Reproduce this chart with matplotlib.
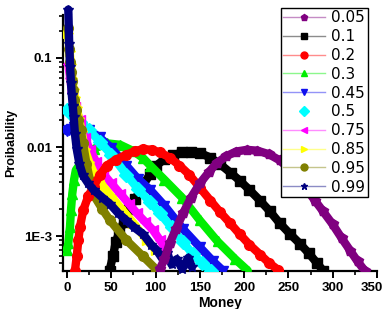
import matplotlib
matplotlib.use('Agg')
import matplotlib.pyplot as plt
import matplotlib.transforms as mtransforms
from matplotlib.lines import Line2D
from matplotlib.ticker import FixedLocator, LogLocator, NullFormatter, MultipleLocator

# saving propensity labels
labels = ['0.05', '0.1', '0.2', '0.3', '0.45', '0.5', '0.75', '0.85', '0.95', '0.99']

# values: money, probability
m_005 = [105, 110, 116, 123, 131, 140, 150, 160, 169, 180, 191, 203, 215, 228, 240, 250, 260, 270, 280, 289, 300, 310, 320, 328, 336]
p_005 = [4.3e-4, 5.5e-4, 8.3e-4, 1.2e-3, 1.8e-3, 2.7e-3, 3.9e-3, 5.2e-3, 6.6e-3, 7.9e-3, 8.9e-3, 9.3e-3, 9.1e-3, 8.3e-3, 7.1e-3, 5.8e-3, 4.5e-3, 3.4e-3, 2.5e-3, 1.9e-3, 1.35e-3, 9.5e-4, 6.8e-4, 5.2e-4, 4.1e-4]

m_01 = [48, 52, 55, 59, 64, 70, 77, 85, 94, 101, 110, 120, 130, 140, 150, 162, 173, 185, 195, 206, 218, 229, 240, 252, 263, 273, 282, 289]
p_01 = [4.1e-4, 6e-4, 8.5e-4, 1.1e-3, 1.45e-3, 2e-3, 2.6e-3, 3.6e-3, 5e-3, 6.2e-3, 7.3e-3, 8.1e-3, 8.7e-3, 8.9e-3, 8.6e-3, 7.6e-3, 6.4e-3, 5.1e-3, 4.2e-3, 3.3e-3, 2.5e-3, 1.9e-3, 1.4e-3, 1.05e-3, 8.2e-4, 6.4e-4, 5e-4, 4.1e-4]

m_02 = [9, 11, 12.8, 14.7, 18.4, 24, 30, 37, 45, 55, 67, 77, 86, 96, 105, 116, 127, 138, 150, 162, 173, 184, 195, 206, 218, 228, 238]
p_02 = [4.1e-4, 5.9e-4, 9e-4, 1.27e-3, 1.96e-3, 2.8e-3, 3.6e-3, 4.8e-3, 6.2e-3, 7.2e-3, 8.2e-3, 9e-3, 9.5e-3, 9.3e-3, 8.7e-3, 7.6e-3, 6.2e-3, 4.9e-3, 3.5e-3, 2.5e-3, 1.85e-3, 1.4e-3, 1.05e-3, 8e-4, 6.2e-4, 5e-4, 4.2e-4]

m_03 = [0, 1.5, 3.4, 4.5, 6, 8, 10, 15, 20, 30, 45, 60, 75, 86, 94, 110, 130, 150, 170, 190, 204]
p_03 = [7e-4, 8.3e-4, 1.27e-3, 1.96e-3, 3e-3, 4.3e-3, 5.5e-3, 6.5e-3, 7.8e-3, 9.5e-3, 1.1e-2, 1.06e-2, 9e-3, 7.5e-3, 6.2e-3, 4.3e-3, 2.7e-3, 1.5e-3, 8.7e-4, 5.5e-4, 4.1e-4]

m_045 = [0, 2, 4, 8, 15, 25, 37, 50, 67, 80, 94, 110, 131, 150, 165, 176]
p_045 = [1.5e-2, 1.55e-2, 1.6e-2, 1.7e-2, 1.7e-2, 1.55e-2, 1.28e-2, 9.8e-3, 6.2e-3, 4.4e-3, 3.3e-3, 2.2e-3, 1.2e-3, 7.5e-4, 5.2e-4, 4.1e-4]

m_05 = [0, 8, 15, 25, 37, 50, 67, 80, 94, 105, 118, 131, 142, 152, 163]
p_05 = [2.6e-2, 2.2e-2, 1.9e-2, 1.55e-2, 1.15e-2, 8.2e-3, 4.9e-3, 3.4e-3, 2.4e-3, 1.8e-3, 1.25e-3, 8.5e-4, 6.3e-4, 5e-4, 4.1e-4]

m_075 = [1.5, 3.5, 5.5, 9, 14.7, 20, 26, 33, 41, 50, 60, 70, 79, 88, 97, 105, 112]
p_075 = [8.5e-2, 6e-2, 4.2e-2, 2.8e-2, 2e-2, 1.25e-2, 9.3e-3, 6.8e-3, 5e-3, 3.9e-3, 3e-3, 2.3e-3, 1.8e-3, 1.45e-3, 1.17e-3, 9e-4, 7e-4]

m_085 = [1.5, 3, 4.5, 6, 7.5, 9, 11, 13.5, 16.5, 20, 25, 30, 36, 41, 50, 60, 75, 90, 100]
p_085 = [1.9e-1, 1.2e-1, 8.5e-2, 6e-2, 4.5e-2, 3.6e-2, 2.8e-2, 2.1e-2, 1.5e-2, 9.5e-3, 6.8e-3, 5.2e-3, 4.3e-3, 3.6e-3, 2.8e-3, 2.1e-3, 1.4e-3, 9e-4, 7e-4]

m_095 = [1.5, 2.5, 3.5, 4.5, 5.5, 6.5, 8, 10, 12.5, 15.5, 18, 22, 26, 30, 40, 48.5, 67, 86, 101]
p_095 = [2.2e-1, 1.25e-1, 9e-2, 7e-2, 5.5e-2, 4.4e-2, 3.4e-2, 2.6e-2, 2e-2, 1.55e-2, 1.1e-2, 6.5e-3, 4.2e-3, 2.9e-3, 2e-3, 1.5e-3, 9e-4, 5.9e-4, 4.2e-4]

m_099 = [1.5, 2.5, 3.5, 4.5, 5.5, 6.5, 7.5, 9, 11, 14, 18, 24, 30, 40, 48.5, 58, 67, 76, 86, 95, 101, 108, 113, 118, 124, 130, 137, 141]
p_099 = [3.5e-1, 1.45e-1, 8e-2, 5.2e-2, 3.8e-2, 2.9e-2, 2.2e-2, 1.4e-2, 9.5e-3, 6.5e-3, 4.8e-3, 3.9e-3, 3.3e-3, 2.7e-3, 2.3e-3, 1.8e-3, 1.5e-3, 1.25e-3, 1.05e-3, 8e-4, 7e-4, 5.5e-4, 6.5e-4, 4.8e-4, 5.5e-4, 4.3e-4, 5.7e-4, 4.5e-4]

money = [m_005, m_01, m_02, m_03, m_045, m_05, m_075, m_085, m_095, m_099]
prob = [p_005, p_01, p_02, p_03, p_045, p_05, p_075, p_085, p_095, p_099]

colors = ['#800080', '#000000', '#ff0000', '#00ee00', '#1010ee', '#00ffff', '#ff00ff', '#ffff00', '#808000', '#000080']
markers = ['p', 's', 'o', '^', 'v', 'D', '<', '>', 'o', '*']
zorders = [9, 3, 4, 3, 3, 3, 3, 3, 3, 5]

fig = plt.figure(figsize=(3.86, 3.09), dpi=100)
ax = fig.add_axes([63/386, 38/309, 314/386, 256/309])

for i in range(len(labels)):
    ax.plot(money[i], prob[i], color=colors[i], lw=6, marker=markers[i], ms=7,
            solid_capstyle='round', zorder=zorders[i], clip_on=(i != 9))

ax.set_yscale('log')
ax.set_xlim(-4.5, 350)
ax.set_ylim(4.05e-4, 0.304)

ax.xaxis.set_major_locator(MultipleLocator(50))
ax.xaxis.set_minor_locator(MultipleLocator(25))
ax.yaxis.set_major_locator(FixedLocator([1e-3, 1e-2, 1e-1]))
ax.yaxis.set_minor_locator(LogLocator(base=10, subs=range(2, 10)))
ax.yaxis.set_minor_formatter(NullFormatter())
ax.set_yticklabels(['1E-3', '0.01', '0.1'])

for s in ['top', 'right']:
    ax.spines[s].set_visible(False)
for s in ['left', 'bottom']:
    ax.spines[s].set_linewidth(1.6)

tick_font = {'family': 'Liberation Sans', 'weight': 'bold', 'size': 9.5}
ax.tick_params(which='major', direction='out', length=5, width=1.4, pad=3)
ax.tick_params(which='minor', direction='out', length=3, width=1.2)
for lab in ax.get_xticklabels() + ax.get_yticklabels():
    lab.set_fontproperties(matplotlib.font_manager.FontProperties(**tick_font))

# last x label sits at the figure edge, nudge it a little so it stays readable
fig.canvas.draw()
xlabs = ax.get_xticklabels()
for lab in xlabs:
    if lab.get_text() == '350':
        lab.set_transform(lab.get_transform() + mtransforms.ScaledTranslation(-5/100, 0, fig.dpi_scale_trans))

ax.set_xlabel('Money', fontfamily='Liberation Sans', fontweight='bold', fontsize=10, labelpad=1)
ax.set_ylabel('Proibability', fontfamily='Liberation Sans', fontweight='bold', fontsize=9, labelpad=5)

handles = []
for i in range(len(labels)):
    r, g, b = matplotlib.colors.to_rgb(colors[i])
    ls = 'none' if labels[i] == '0.5' else '-'
    handles.append(Line2D([], [], color=(r, g, b, 0.45), lw=1, ls=ls, marker=markers[i], ms=5,
                          markerfacecolor=colors[i], markeredgecolor=colors[i]))

leg = fig.legend(handles, labels, loc='upper left', bbox_to_anchor=(281/386, 1 - 8/309),
                 frameon=True, fancybox=False, framealpha=1, edgecolor='black',
                 fontsize=11, handlelength=2.7, handletextpad=0.45, labelspacing=0.25,
                 borderpad=0.15, borderaxespad=0)
leg.get_frame().set_linewidth(1.0)
leg.set_zorder(20)

plt.savefig('out.png', dpi=100)
